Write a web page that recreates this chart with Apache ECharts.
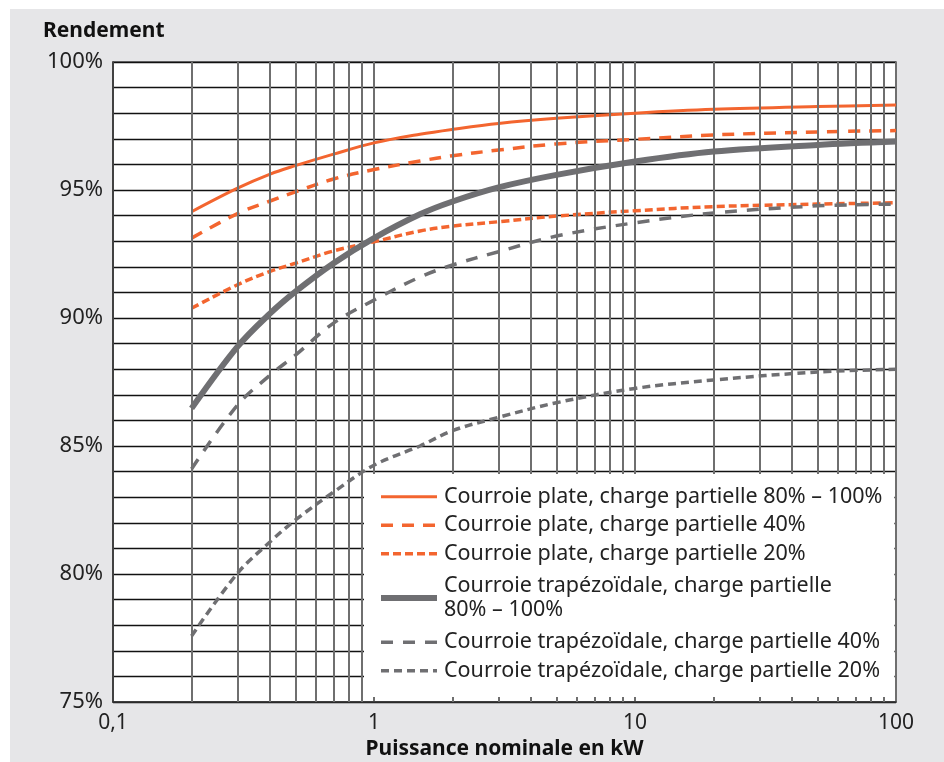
<!DOCTYPE html>
<html>
<head>
    <meta charset="utf-8" />
    <title>Rendement courroies</title>
    <script src="https://cdn.jsdelivr.net/npm/echarts@6.0.0/dist/echarts.min.js"></script>
    <style>
        html, body { margin: 0; padding: 0; background: #ffffff; }
        #main { position: absolute; left: 10px; top: 9px; width: 934px; height: 753px; }
    </style>
</head>
<body>
<div id="main"></div>
<script type="text/javascript">
    // puissance nominale (kW) des points lus
    var powerKw = [0.2, 0.3, 0.4, 0.5, 0.7, 1, 1.5, 2, 3, 5, 10, 20, 50, 100];
    // rendement en %
    var plate80100 = [94.15, 95.07, 95.62, 95.95, 96.4, 96.84, 97.18, 97.37, 97.6, 97.8, 98.0, 98.15, 98.26, 98.32];
    var plate40 = [93.12, 94.08, 94.57, 94.93, 95.43, 95.8, 96.13, 96.34, 96.56, 96.8, 96.98, 97.15, 97.27, 97.32];
    var plate20 = [90.38, 91.3, 91.82, 92.14, 92.62, 92.98, 93.4, 93.59, 93.76, 93.98, 94.19, 94.35, 94.45, 94.5];
    var trap80100 = [86.47, 88.88, 90.18, 91.03, 92.14, 93.12, 94.05, 94.55, 95.1, 95.59, 96.11, 96.5, 96.76, 96.89];
    var trap40 = [84.1, 86.6, 87.77, 88.55, 89.8, 90.7, 91.6, 92.07, 92.59, 93.2, 93.72, 94.1, 94.38, 94.45];
    var trap20 = [77.58, 80.03, 81.26, 82.11, 83.2, 84.25, 85.0, 85.6, 86.12, 86.69, 87.25, 87.58, 87.89, 88.0];
    // lignes verticales intermédiaires de l'échelle log
    var minorKw = [0.2, 0.3, 0.4, 0.5, 0.6, 0.7, 0.8, 0.9, 2, 3, 4, 5, 6, 7, 8, 9, 20, 30, 40, 50, 60, 70, 80, 90];

    var orange = '#f3652f';
    var gris = '#6f6f72';
    var police = '"Noto Sans", "Open Sans", sans-serif';

    function pts(arr) {
        return powerKw.map(function (p, i) { return [p, arr[i]]; });
    }

    function courbe(name, arr, color, width, dash) {
        return {
            name: name,
            type: 'line',
            data: pts(arr),
            smooth: 0.35,
            symbol: 'none',
            silent: true,
            z: 3,
            lineStyle: { color: color, width: width, type: dash, cap: 'butt' },
            itemStyle: { color: color }
        };
    }

    var myChart = echarts.init(document.getElementById('main'));

    var series = [
        courbe('Courroie plate, charge partielle 80% – 100%', plate80100, orange, 3, 'solid'),
        courbe('Courroie plate, charge partielle 40%', plate40, orange, 3.5, [12, 9]),
        courbe('Courroie plate, charge partielle 20%', plate20, orange, 3.5, [8, 4]),
        courbe('Courroie trapézoïdale, charge partielle\n80% – 100%', trap80100, gris, 6, 'solid'),
        courbe('Courroie trapézoïdale, charge partielle 40%', trap40, gris, 3.5, [12, 10]),
        courbe('Courroie trapézoïdale, charge partielle 20%', trap20, gris, 3.5, [8, 5])
    ];

    // lignes de grille secondaires (x)
    series.push({
        type: 'line',
        data: [],
        silent: true,
        z: 1,
        markLine: {
            silent: true,
            symbol: 'none',
            label: { show: false },
            animation: false,
            lineStyle: { color: '#6f6f6f', width: 2, type: 'solid' },
            data: minorKw.map(function (v) { return { xAxis: v }; })
        }
    });

    var legendItems = series.slice(0, 6).map(function (s, i) {
        // l'entrée sur deux lignes a un peu plus d'air au-dessus
        if (i === 3) {
            return { name: s.name, textStyle: { padding: [8, 0, 0, 2] } };
        }
        return { name: s.name };
    });

    var option = {
        backgroundColor: '#e6e6e8',
        animation: false,
        textStyle: { fontFamily: police },
        title: {
            text: 'Rendement',
            left: 28,
            top: 7,
            textStyle: { fontFamily: police, fontSize: 21, fontWeight: 'bold', color: '#111' }
        },
        // fond blanc de la légende, par-dessus la grille
        graphic: [{
            type: 'rect',
            z: 20,
            silent: true,
            shape: { x: 354, y: 465, width: 528, height: 223 },
            style: { fill: '#ffffff' }
        }],
        grid: {
            left: 103,
            top: 53,
            right: 48,
            bottom: 60,
            containLabel: false,
            outerBoundsMode: 'none',
            show: true,
            backgroundColor: '#ffffff',
            borderColor: '#555',
            borderWidth: 1.5
        },
        legend: {
            orient: 'vertical',
            left: 356,
            top: 466,
            z: 30,
            padding: [10, 12, 12, 12],
            backgroundColor: '#ffffff',
            itemWidth: 56,
            itemHeight: 14,
            itemGap: 5,
            selectedMode: false,
            itemStyle: { opacity: 0, borderWidth: 0 },
            lineStyle: { width: 'inherit', type: 'inherit' },
            textStyle: { fontFamily: police, fontSize: 21.5, lineHeight: 23.5, color: '#222', padding: [0, 0, 0, 2] },
            data: legendItems
        },
        xAxis: {
            type: 'log',
            logBase: 10,
            min: 0.1,
            max: 100,
            name: 'Puissance nominale en kW',
            nameLocation: 'middle',
            nameGap: 36,
            nameTextStyle: { fontFamily: police, fontSize: 21, fontWeight: 'bold', color: '#111' },
            axisLine: { show: true, lineStyle: { color: '#333', width: 1.5 } },
            axisTick: { show: false },
            axisLabel: {
                fontSize: 21,
                color: '#222',
                margin: 11,
                formatter: function (v) { return String(v).replace('.', ','); }
            },
            splitLine: { show: true, lineStyle: { color: '#6f6f6f', width: 2 } },
            minorTick: { show: false },
            minorSplitLine: { show: false }
        },
        yAxis: {
            type: 'value',
            min: 75,
            max: 100,
            interval: 5,
            axisLine: { show: true, lineStyle: { color: '#333', width: 1.5 } },
            axisTick: { show: false },
            axisLabel: { fontSize: 22, color: '#222', margin: 10, formatter: '{value}%' },
            splitLine: { show: true, lineStyle: { color: '#111', width: 1.3 } },
            minorTick: { show: false, splitNumber: 5 },
            minorSplitLine: { show: true, lineStyle: { color: '#111', width: 1.3 } }
        },
        series: series
    };

    myChart.setOption(option);
</script>
</body>
</html>
